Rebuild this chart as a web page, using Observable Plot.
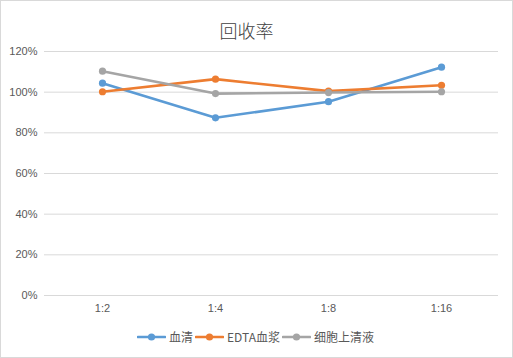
<!DOCTYPE html>
<html><head><meta charset="utf-8">
<script src="https://cdn.jsdelivr.net/npm/d3@7"></script>
<script src="https://cdn.jsdelivr.net/npm/@observablehq/plot@0.6"></script>
<style>
body{margin:0;background:#fff;}
#wrap{position:relative;width:513px;height:358px;overflow:hidden;font-family:"Liberation Sans","Noto Sans CJK SC",sans-serif;}
#frame{position:absolute;left:0;top:0;width:511px;height:356px;border:1px solid #d9d9d9;pointer-events:none;}
#title{position:absolute;left:-20px;width:533px;top:17px;text-align:center;font-family:"Noto Sans CJK SC",sans-serif;font-weight:300;font-size:18px;color:#404040;}
#legend{position:absolute;top:328px;left:137px;display:flex;align-items:center;font-size:12px;color:#595959;font-family:"Liberation Sans Narrow","Noto Sans CJK SC",sans-serif;}
.item{display:flex;align-items:center;margin-right:2px;}
.item svg{margin-right:3px;}
#chart{position:absolute;left:0;top:0;}
</style></head>
<body>
<div id="wrap">
<div id="chart"></div>
<div id="title"></div>
<div id="legend"></div>
<div id="frame"></div>
</div>
<script>
const title = "回收率";
const categories = ["1:2","1:4","1:8","1:16"];
const seriesNames = ["血清","EDTA血浆","细胞上清液"];
const serum = [1.044, 0.874, 0.953, 1.123];
const edta = [1.002, 1.064, 1.005, 1.034];
const supernatant = [1.103, 0.993, 0.998, 1.002];
const yTicks = [0,0.2,0.4,0.6,0.8,1.0,1.2];
const colors = ["#5B9BD5","#ED7D31","#A5A5A5"];

const seriesValues = [serum, edta, supernatant];
const data = [];
seriesNames.forEach((s,i)=>categories.forEach((c,j)=>data.push({series:s,cat:c,value:seriesValues[i][j]})));

document.getElementById("title").textContent = title;

const chart = Plot.plot({
  width:513, height:358,
  marginLeft:44, marginRight:15, marginTop:51, marginBottom:63,
  style:{fontFamily:"Liberation Sans, sans-serif", fontSize:"11px", color:"#595959", background:"transparent"},
  x:{type:"point", domain:categories, padding:0.5, label:null, tickSize:0, tickPadding:9},
  y:{domain:[0,1.2], ticks:yTicks, tickFormat:d=>Math.round(d*100)+"%", label:null, tickSize:0, tickPadding:7},
  color:{domain:seriesNames, range:colors},
  marks:[
    Plot.ruleY(yTicks,{stroke:"#d9d9d9", strokeWidth:1}),
    Plot.line(data,{x:"cat", y:"value", z:"series", stroke:"series", strokeWidth:2.6, strokeLinejoin:"round", strokeLinecap:"round"}),
    Plot.dot(data,{x:"cat", y:"value", fill:"series", r:3.6})
  ]
});
document.getElementById("chart").appendChild(chart);

const legend = document.getElementById("legend");
seriesNames.forEach((s,i)=>{
  const it = document.createElement("div"); it.className="item";
  it.innerHTML = `<svg width="29" height="10"><line x1="1" y1="5" x2="28" y2="5" stroke="${colors[i]}" stroke-width="2.6" stroke-linecap="round"/><circle cx="14.5" cy="5" r="3.6" fill="${colors[i]}"/></svg><span>${s}</span>`;
  legend.appendChild(it);
});
</script>
</body></html>
